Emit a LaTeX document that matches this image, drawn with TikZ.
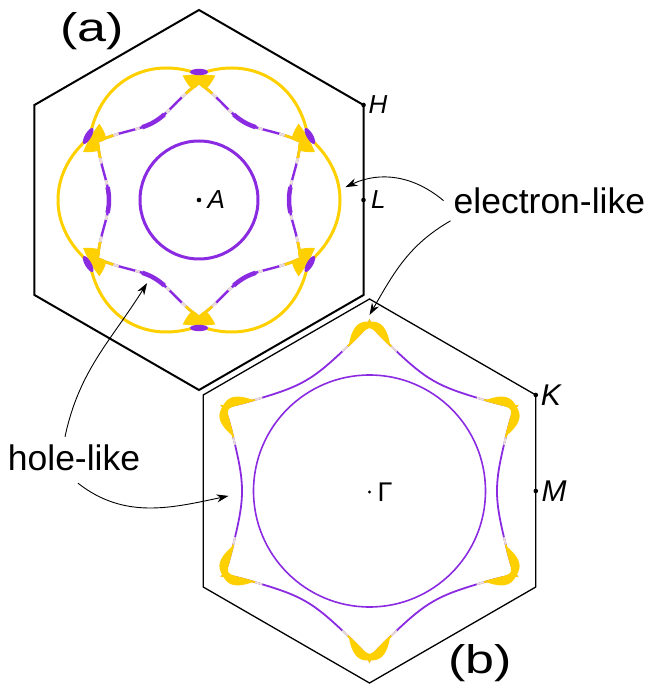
\documentclass[tikz,border=0pt]{standalone}
\usepackage{fontspec}
\setmainfont{Liberation Sans}
\usetikzlibrary{arrows.meta,positioning}
\definecolor{fsyel}{RGB}{255,208,0}
\definecolor{fspur}{RGB}{138,43,226}
\definecolor{fspale}{RGB}{232,222,214}

\begin{document}
\begin{tikzpicture}[x=1pt,y=1pt,
  hexa/.style={draw=black,line join=miter},
  dot/.style={circle,fill=black,inner sep=0pt,minimum size=4.6pt},
  sym/.style={inner sep=0pt,font=\fontsize{26}{29}\selectfont\itshape},
  symb/.style={inner sep=0pt,font=\fontsize{30}{34}\selectfont\itshape},
  gam/.style={inner sep=0pt,font=\fontsize{27}{30}\selectfont},
  tag/.style={inner sep=0pt,font=\fontsize{35.5}{40}\selectfont},
  panel/.style={inner sep=0pt,font=\fontsize{40}{46}\selectfont,transform shape,xscale=1.3},
  arr/.style={-{Stealth[length=12pt,width=8pt]},line width=0.9pt}
]
\useasboundingbox (0,0) rectangle (655,686);
\coordinate (ca) at (199,486);
\coordinate (cb) at (369.5,195);

% (a) zone with two sheets
\begin{scope}[shift={(ca)}]
  \draw[hexa,line width=2pt] (90:190) -- (150:190) -- (210:190) -- (270:190) -- (330:190) -- (30:190) -- cycle;
  \draw[fspur,line width=3pt] (0,0) circle (59);
  % star sheet
  \draw[fspur,line width=2.4pt] plot[domain=0:360,samples=361] (\x:{117-27*abs(cos(3*\x))}) -- cycle;
  \foreach \p in {30,90,...,330} {
    \draw[fspur,line width=4.5pt] plot[domain=\p+22:\p+38,samples=17] (\x:{117-27*abs(cos(3*\x))});
    \foreach \a/\b in {7/9.5,18/20.5} {
      \draw[fspale,line width=2.6pt] plot[domain=\p+\a:\p+\b,samples=4] (\x:{117-27*abs(cos(3*\x))});
      \draw[fspale,line width=2.6pt] plot[domain=\p-\b:\p-\a,samples=4] (\x:{117-27*abs(cos(3*\x))});
    }
    \draw[fsyel,line width=2.8pt] plot[domain=\p-7:\p+7,samples=15] (\x:{117-27*abs(cos(3*\x))});
  }
  % outer sheet
  \draw[fsyel,line width=3pt] plot[domain=0:360,samples=361] (\x:{126+15*abs(cos(3*\x))}) -- cycle;
  \foreach \p in {30,90,...,330} {
    \fill[fsyel] plot[domain=\p-7.5:\p+7.5,samples=31] (\x:{117-3.67*abs(\x-\p)+0.6405*(\x-\p)*(\x-\p)})
      arc[start angle=\p+7.5,end angle=\p-7.5,radius=125.5] -- cycle;
    \fill[fspur,rotate=\p-90] (0,128) ellipse (9 and 3.2);
  }
  \node[dot] (H) at (30:190) {};
  \node[dot] (L) at (0:164.5) {};
  \node[dot] (A) at (0,0) {};
  \coordinate (tA1) at (5:147);
  \coordinate (tA2) at (238:98);
\end{scope}

% (b) zone
\begin{scope}[shift={(cb)}]
  \draw[hexa,line width=1.3pt] (90:192) -- (150:192) -- (210:192) -- (270:192) -- (330:192) -- (30:192) -- cycle;
  \draw[fspur,line width=1.6pt] (0,0) circle (116);
  \draw[fspur,line width=1.8pt] plot[domain=0:360,samples=361] (\x:{170-42.5*pow(abs(cos(3*\x))+0.0001,0.7)}) -- cycle;
  \foreach \p in {30,90,...,330} {
    \draw[fspale,line width=1.9pt] plot[domain=\p+8.5:\p+11,samples=4] (\x:{170-42.5*pow(abs(cos(3*\x))+0.0001,0.7)});
    \draw[fspale,line width=1.9pt] plot[domain=\p-11:\p-8.5,samples=4] (\x:{170-42.5*pow(abs(cos(3*\x))+0.0001,0.7)});
    \draw[fsyel,line width=1.9pt] plot[domain=\p-8.5:\p+8.5,samples=35] (\x:{170-42.5*pow(abs(cos(3*\x))+0.0001,0.7)});
    \fill[fsyel,rotate=\p-90] plot[domain=-8:8,samples=32] (90+\x:{169.5-21.5*pow(abs(\x)/8+0.001,3)})
      -- plot[domain=8:-8,samples=32] (90+\x:{163-16*pow(abs(\x)/8+0.001,1.2)}) -- cycle;
  }
  \node[dot] (K) at (30:192) {};
  \node[dot] (M) at (0:166.3) {};
  \node[dot,minimum size=3.4pt] (G) at (0,-1) {};
  \coordinate (tB1) at (90:176);
  \coordinate (tB2) at (182:141);
\end{scope}

\node[sym,right=2.5pt of H] (Hl) {H};
\node[sym,right=5pt of L] (Ll) {L};
\node[sym,right=6pt of A] (Al) {A};
\node[symb,right=2.5pt of K] (Kl) {K};
\node[symb,right=3pt of M] (Ml) {M};
\node[gam,right=6pt of G] (Gl) {Γ};

\node[panel] (pa) at (92,655) {(a)};
\node[panel] (pb) at (480,22.7) {(b)};
\node[tag,anchor=base west] (elec) at (453.5,472.7) {electron-like};
\node[tag,anchor=base west] (hole) at (7.7,215.3) {hole-like};

\draw[arr] ([xshift=-10pt]elec.west) to[out=140,in=25] (tA1);
\draw[arr] ([xshift=-3pt,yshift=-7pt]elec.south west) to[out=210,in=60] (tB1);
\draw[arr] ([xshift=-9pt,yshift=8pt]hole.north) to[out=78,in=238] (tA2);
\draw[arr] ([xshift=4pt,yshift=-12pt]hole.south) to[out=-38,in=192] (tB2);
\end{tikzpicture}
\end{document}
